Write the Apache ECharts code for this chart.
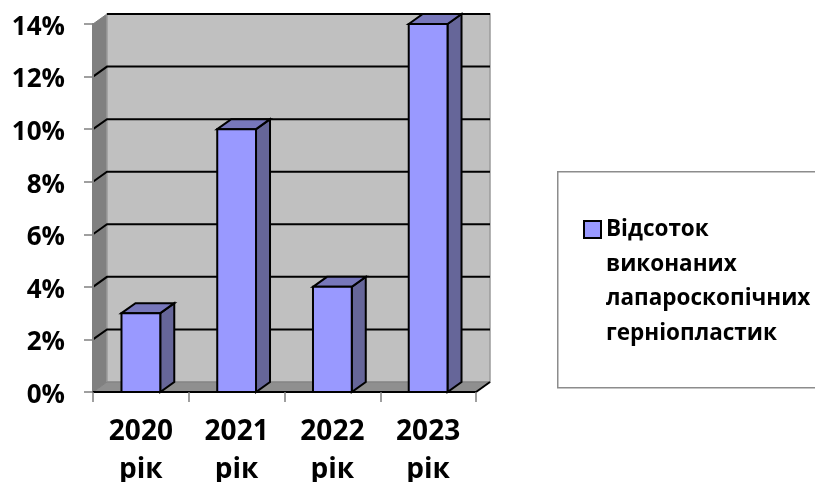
<!DOCTYPE html>
<html>
<head>
<meta charset="utf-8">
<style>html,body{margin:0;padding:0;background:#fff}#c{width:815px;height:482px}</style>
<script src="https://cdn.jsdelivr.net/npm/echarts@6/dist/echarts.min.js"></script>
</head>
<body>
<div id="c"></div>
<script>
const categories = ['2020\nрік', '2021\nрік', '2022\nрік', '2023\nрік'];
const percentValues = [3, 10, 4, 14];
const gridValues = [0, 2, 4, 6, 8, 10, 12, 14];
const seriesName = 'Відсоток\nвиконаних\nлапароскопічних\nгерніопластик';
const depthX = 14, depthY = 10;
const fontFamily = '"Open Sans","Noto Sans",sans-serif';
const lineH = 34.7;

const chart = echarts.init(document.getElementById('c'), null, {renderer: 'canvas'});

function poly(points, fill, stroke, lw) {
  return {type: 'polygon', shape: {points},
    style: {fill, stroke: stroke || 'none', lineWidth: lw || 0}};
}

function renderWalls(params, api) {
  const g = params.coordSys;
  const x0 = g.x, x1 = g.x + g.width, yb = g.y + g.height, yt = g.y;
  return {type: 'group', children: [
    poly([[x0, yt], [x0 + depthX, yt - depthY], [x0 + depthX, yb - depthY], [x0, yb]], '#808080', '#808080', 1),
    poly([[x0 + depthX, yt - depthY], [x1 + depthX, yt - depthY], [x1 + depthX, yb - depthY], [x0 + depthX, yb - depthY]], '#C0C0C0', '#9a9a9a', 1.5),
    poly([[x0, yb], [x0 + depthX, yb - depthY], [x1 + depthX, yb - depthY], [x1, yb]], '#8F8F8F', '#808080', 1),
    {type: 'line', shape: {x1: x1, y1: yb, x2: x1 + depthX, y2: yb - depthY},
      style: {stroke: '#000', lineWidth: 2}}
  ]};
}

function renderGrid(params, api) {
  const g = params.coordSys;
  const v = api.value(0);
  const y = api.coord([0, v])[1];
  const xl = g.x, xr = g.x + g.width + depthX;
  if (v === 0) return {type: 'group', children: []};
  const pts = v === 14
    ? [[xl + depthX, y - depthY], [xr, y - depthY]]
    : [[xl, y], [xl + depthX, y - depthY], [xr, y - depthY]];
  return {type: 'polyline', shape: {points: pts},
    style: {fill: 'none', stroke: '#000', lineWidth: 2}};
}

function renderBars(params, api) {
  const cat = api.value(0), v = api.value(1);
  const top = api.coord([cat, v]), base = api.coord([cat, 0]);
  const w = api.size([1, 0])[0] * 0.405;
  const l = top[0] - w / 2, r = top[0] + w / 2;
  const st = '#000', lw = 2;
  return {type: 'group', children: [
    poly([[r, top[1]], [r + depthX, top[1] - depthY], [r + depthX, base[1] - depthY], [r, base[1]]], '#666699', st, lw),
    poly([[l, top[1]], [l + depthX, top[1] - depthY], [r + depthX, top[1] - depthY], [r, top[1]]], '#7777BB', st, lw),
    poly([[l, top[1]], [r, top[1]], [r, base[1]], [l, base[1]]], '#9999FF', st, lw)
  ]};
}

chart.setOption({
  animation: false,
  backgroundColor: '#fff',
  grid: {left: 93, top: 24, width: 383, height: 368, containLabel: false, outerBoundsMode: 'none'},
  xAxis: {
    type: 'category', data: categories, z: 10,
    axisLine: {show: true, lineStyle: {color: '#000', width: 2}},
    axisTick: {show: true, alignWithLabel: false, length: 10, lineStyle: {color: '#808080', width: 1.5}},
    axisLabel: {color: '#000', fontFamily, fontWeight: 'bold', fontSize: 28, lineHeight: 38, margin: 21, interval: 0}
  },
  yAxis: {
    type: 'value', min: 0, max: 14, interval: 2, z: 10,
    axisLine: {show: true, lineStyle: {color: '#808080', width: 2}},
    axisTick: {show: true, length: 9, lineStyle: {color: '#808080', width: 1.5}},
    splitLine: {show: false},
    axisLabel: {color: '#000', fontFamily, fontWeight: 'bold', fontSize: 26, margin: 28,
      formatter: '{value}%', align: 'right', verticalAlign: 'top', lineHeight: 7}
  },
  legend: {
    show: true, orient: 'vertical', left: 583, top: 108, padding: 0,
    data: [seriesName], icon: 'rect', itemWidth: 17, itemHeight: 17,
    itemStyle: {color: '#9999FF', borderColor: '#000', borderWidth: 2},
    selectedMode: false,
    formatter: name => '\n\n\n' + name,
    textStyle: {color: '#000', fontFamily, fontWeight: 'bold', fontSize: 22.5, lineHeight: lineH}
  },
  graphic: [{
    type: 'rect', z: -1, left: 557, top: 171,
    shape: {width: 270, height: 216},
    style: {fill: '#fff', stroke: '#8c8c8c', lineWidth: 1.5}
  }],
  series: [
    {name: 'walls', type: 'custom', z: 1, silent: true, clip: false, renderItem: renderWalls, data: [[0]], encode: {x: -1, y: -1}},
    {name: 'grid', type: 'custom', z: 2, silent: true, clip: false, renderItem: renderGrid,
      data: gridValues.map(v => [v]), encode: {y: 0, x: -1}},
    {name: seriesName, type: 'custom', z: 3, silent: true, clip: false, renderItem: renderBars,
      itemStyle: {color: '#9999FF'},
      data: percentValues.map((v, i) => [i, v]), encode: {x: 0, y: 1}}
  ]
});
</script>
</body>
</html>
